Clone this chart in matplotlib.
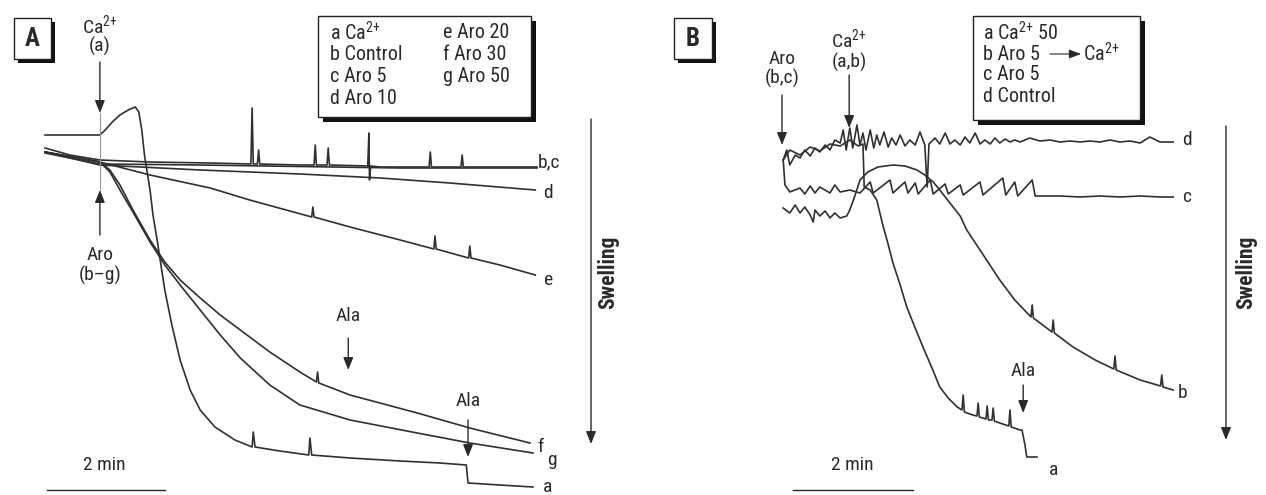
import matplotlib
matplotlib.use('Agg')
import matplotlib.pyplot as plt
from matplotlib import font_manager as fm
from matplotlib.patches import Rectangle

# ---------------- data: panel A (time in min, relative absorbance units) ----------------
A_a_t = [0.00, 0.93, 1.02, 1.14, 1.27, 1.41, 1.53, 1.59, 1.64, 1.69, 1.78, 1.83, 1.90, 2.03, 2.15, 2.29,
         2.46, 2.63, 2.88, 3.22, 3.51, 3.53, 3.56, 3.98, 4.47, 4.49, 4.52, 5.17, 6.02, 6.69, 7.14, 7.17,
         7.71, 8.27]
A_a_y = [15, 15, 20, 28, 35, 40, 43, 38, 20, -7, -40, -65, -90, -140, -175, -210,
         -240, -260, -277, -290, -297, -282, -297, -301, -305, -288, -305, -308, -311, -313, -315, -333,
         -335, -337]

A_b_t = [0.00, 0.42, 0.93, 1.78, 2.80, 3.49, 3.51, 3.53, 3.60, 3.62, 3.64, 4.32, 4.56, 4.58, 4.60, 4.78,
         4.80, 4.82, 5.47, 5.49, 5.50, 5.52, 5.68, 6.51, 6.53, 6.55, 7.05, 7.07, 7.09, 8.34]
A_b_y = [2, -5, -10, -12, -13, -14, 42, -14, -14, 0, -14, -15, -15, 5, -15, -15,
         2, -15, -16, 17, -30, -16, -17, -17, -2, -17, -17, -5, -17, -17]

A_c_t = [0.00, 0.93, 2.63, 6.02, 8.34]
A_c_y = [-3, -14, -15, -18, -18]

A_d_t = [0.00, 0.93, 2.63, 4.32, 5.68, 6.86, 8.31]
A_d_y = [-2, -15, -20, -24, -28, -33, -40]

A_e_t = [0.00, 0.93, 1.78, 2.80, 3.47, 4.52, 4.54, 4.56, 5.17, 6.02, 6.59, 6.61, 6.63, 7.18, 7.20, 7.22,
         7.71, 8.31]
A_e_y = [-2, -12, -25, -38, -50, -67, -57, -67, -77, -90, -99, -86, -99, -108, -96, -108,
         -115, -125]

A_f_t = [0.00, 0.93, 1.10, 1.27, 1.49, 1.78, 2.03, 2.29, 2.63, 2.97, 3.31, 3.81, 4.32, 4.60, 4.62,
         4.64, 5.17, 6.31, 7.20, 8.22]
A_f_y = [-2, -12, -20, -35, -60, -90, -112, -130, -148, -165, -180, -202, -222, -232, -222,
         -233, -245, -263, -278, -293]

A_g_t = [0.00, 0.93, 1.10, 1.27, 1.49, 1.78, 2.03, 2.29, 2.63, 2.97, 3.31, 3.81, 4.32, 5.17, 6.31,
         7.20, 8.27]
A_g_y = [-2, -12, -22, -40, -62, -92, -115, -135, -160, -185, -208, -235, -255, -270, -283,
         -293, -303]

A_trace_labels = ['b,c', 'd', 'e', 'f', 'g', 'a']
A_label_t = [8.55, 8.53, 8.53, 8.39, 8.59, 8.51]
A_label_y = [-12, -43, -130, -297, -310, -337]

A_ca_time = 0.93
A_aro_time = 0.93
A_ala_times = [5.14, 7.17]
A_legend_col1 = ['a Ca$^{2{+}}$', 'b Control', 'c Aro 5', 'd Aro 10']
A_legend_col2 = ['e Aro 20', 'f Aro 30', 'g Aro 50']

# ---------------- data: panel B ----------------
B_d_t = [0.02, 0.08, 0.13, 0.22, 0.30, 0.38, 0.47, 0.55, 0.63, 0.72, 0.80, 0.88, 0.97, 1.02, 1.07, 1.13,
         1.18, 1.25, 1.30, 1.35, 1.40, 1.47, 1.53, 1.58, 1.63, 1.70, 1.77, 1.83, 1.90, 1.97, 2.05, 2.13,
         2.22, 2.30, 2.38, 2.42, 2.45, 2.55, 2.63, 2.72, 2.80, 2.88, 2.97, 3.05, 3.13, 3.22, 3.30, 3.38,
         3.47, 3.55, 3.63, 3.72, 3.80, 3.88, 3.97, 4.13, 4.30, 4.47, 4.63, 4.80, 4.97, 5.13, 5.30, 5.47,
         5.63, 5.80, 5.97, 6.13, 6.30, 6.38, 6.52]
B_d_y = [-10, 0, -15, -5, -8, 0, -6, 2, -2, 5, 0, 10, 7, 20, 0, 22,
         2, 25, 5, 17, 0, 20, 2, 15, 5, 18, 3, 12, 5, 15, 4, 10,
         5, 18, 5, -37, 6, 12, 6, 17, 6, 10, 5, 13, 7, 17, 6, 10,
         6, 12, 7, 11, 8, 10, 8, 12, 9, 10, 8, 9, 8, 9, 8, 10,
         8, 9, 7, 13, 8, 8, 8]

B_c_t = [0.02, 0.05, 0.13, 0.30, 0.38, 0.47, 0.55, 0.63, 0.80, 0.88, 0.97, 1.13, 1.30, 1.47, 1.52, 1.80,
         1.85, 2.05, 2.10, 2.22, 2.27, 2.47, 2.52, 2.72, 2.77, 2.97, 3.02, 3.30, 3.35, 3.68, 3.73, 3.88,
         3.93, 4.17, 4.22, 4.63, 4.97, 5.30, 5.63, 5.97, 6.30, 6.52]
B_c_y = [-10, -35, -42, -38, -44, -36, -43, -37, -43, -35, -42, -40, -43, -32, -43, -30,
         -43, -32, -43, -33, -44, -30, -44, -34, -44, -35, -45, -32, -45, -28, -45, -32,
         -46, -30, -46, -46, -47, -46, -47, -46, -47, -47]

B_b_t = [0.02, 0.13, 0.22, 0.30, 0.38, 0.47, 0.52, 0.55, 0.63, 0.72, 0.80, 0.88, 0.97, 1.08, 1.13, 1.22,
         1.30, 1.43, 1.60, 1.85, 2.05, 2.25, 2.38, 2.52, 2.63, 2.80, 2.97, 3.08, 3.30, 3.63, 3.88, 4.15,
         4.17, 4.19, 4.50, 4.52, 4.54, 4.85, 5.22, 5.53, 5.55, 5.57, 5.97, 6.31, 6.33, 6.35, 6.52]
B_b_y = [-58, -63, -55, -63, -57, -65, -72, -60, -66, -61, -68, -63, -68, -66, -60, -45,
         -30, -22, -17, -15, -16, -20, -25, -32, -40, -53, -66, -80, -100, -130, -150, -167,
         -155, -168, -182, -170, -183, -197, -210, -219, -206, -220, -230, -236, -225, -237, -240]

B_a_t = [0.02, 0.13, 0.30, 0.47, 0.63, 0.80, 0.97, 1.13, 1.27, 1.35, 1.37, 1.47, 1.58, 1.68, 1.75, 1.85,
         1.97, 2.08, 2.22, 2.35, 2.50, 2.63, 2.77, 2.92, 3.00, 3.02, 3.04, 3.18, 3.25, 3.27, 3.29, 3.40,
         3.42, 3.44, 3.50, 3.52, 3.54, 3.63, 3.78, 3.80, 3.82, 3.97, 4.00, 4.05, 4.08, 4.25]
B_a_y = [-10, 0, -5, 3, -1, 6, 4, 10, 4, 6, -37, -40, -50, -75, -90, -113,
         -135, -157, -178, -197, -218, -237, -248, -257, -260, -245, -262, -265, -266, -253, -267, -269,
         -256, -270, -270, -258, -271, -273, -276, -260, -277, -280, -280, -295, -307, -307]

B_trace_labels = ['d', 'c', 'b', 'a']
B_label_t = [6.75, 6.75, 6.68, 4.52]
B_label_y = [10, -47, -243, -320]

B_aro_time = 0.0
B_ca_time = 1.12
B_ala_time = 4.02
B_legend = ['a Ca$^{2{+}}$ 50', 'b Aro 5', 'c Aro 5', 'd Control']

# ---------------- font choice: a narrow sans if one is installed ----------------
avail = {}
for f in fm.fontManager.ttflist:
    avail.setdefault(f.name, set()).add(f.stretch)
FAMILY, STRETCH = 'Liberation Sans', 'normal'
for cand in ['Liberation Sans Narrow', 'Roboto Condensed', 'Open Sans Condensed',
             'DejaVu Sans Condensed', 'Noto Sans Condensed', 'Arial Narrow']:
    if cand in avail:
        FAMILY = cand
        break
else:
    for nm, st in avail.items():
        if 'condensed' in st and nm in ('DejaVu Sans', 'Noto Sans', 'Open Sans', 'Roboto'):
            FAMILY, STRETCH = nm, 'condensed'
            break

plt.rcParams['font.family'] = [FAMILY, 'DejaVu Sans']
plt.rcParams['font.stretch'] = STRETCH
plt.rcParams['mathtext.fontset'] = 'custom'
plt.rcParams['mathtext.rm'] = FAMILY
plt.rcParams['mathtext.it'] = FAMILY
plt.rcParams['mathtext.bf'] = FAMILY

W, H = 1266, 495
fig = plt.figure(figsize=(W / 100, H / 100), dpi=100)
fig.patch.set_facecolor('white')

TXT = '#2a2a2a'
LINE = '#303030'
YL = (-345, 150)
FS = 14
LFS = 14.5

axA = fig.add_axes([0, 0, 633 / W, 1])
axA.set_xlim(-0.763, 9.966)
axA.set_ylim(*YL)
axB = fig.add_axes([633 / W, 0, 633 / W, 1])
axB.set_xlim(-2.483, 8.067)
axB.set_ylim(*YL)
axO = fig.add_axes([0, 0, 1, 1])
axO.set_xlim(0, W)
axO.set_ylim(H, 0)
for ax in (axA, axB, axO):
    ax.axis('off')
axO.patch.set_alpha(0)

arrow_kw = dict(arrowstyle='-|>,head_length=0.75,head_width=0.3', color=TXT, lw=1.0,
                mutation_scale=10, shrinkA=0, shrinkB=0)

# panel A traces
for tt, yy in [(A_c_t, A_c_y), (A_d_t, A_d_y), (A_e_t, A_e_y), (A_g_t, A_g_y),
               (A_f_t, A_f_y), (A_b_t, A_b_y), (A_a_t, A_a_y)]:
    axA.plot(tt, yy, color=LINE, lw=1.2, solid_joinstyle='round')
for lab, tx, ty in zip(A_trace_labels, A_label_t, A_label_y):
    axA.text(tx, ty, lab, ha='center', va='center', fontsize=FS, color=TXT)

# panel B traces
for tt, yy in [(B_d_t, B_d_y), (B_c_t, B_c_y), (B_b_t, B_b_y), (B_a_t, B_a_y)]:
    axB.plot(tt, yy, color=LINE, lw=1.2, solid_joinstyle='round')
for lab, tx, ty in zip(B_trace_labels, B_label_t, B_label_y):
    axB.text(tx, ty, lab, ha='center', va='center', fontsize=FS, color=TXT)

# ---- annotations panel A ----
axA.text(A_ca_time, 125, 'Ca$^{2{+}}$', ha='center', va='center', fontsize=FS, color=TXT)
axA.text(A_ca_time, 104, '(a)', ha='center', va='center', fontsize=FS, color=TXT)
axA.annotate('', xy=(A_ca_time, 37), xytext=(A_ca_time, 88), arrowprops=arrow_kw)
axA.plot([A_ca_time, A_ca_time], [37, -40], color='#999999', lw=0.8)
axA.annotate('', xy=(A_aro_time, -40), xytext=(A_aro_time, -85), arrowprops=arrow_kw)
axA.text(A_aro_time, -105, 'Aro', ha='center', va='center', fontsize=FS, color=TXT)
axA.text(A_aro_time, -125, '(b–g)', ha='center', va='center', fontsize=FS, color=TXT)
axA.text(A_ala_times[0], -166, 'Ala', ha='center', va='center', fontsize=FS, color=TXT)
axA.annotate('', xy=(A_ala_times[0], -220), xytext=(A_ala_times[0], -188), arrowprops=arrow_kw)
axA.text(A_ala_times[1], -251, 'Ala', ha='center', va='center', fontsize=FS, color=TXT)
axA.annotate('', xy=(A_ala_times[1], -307), xytext=(A_ala_times[1], -270), arrowprops=arrow_kw)
axA.annotate('', xy=(9.254, -294), xytext=(9.254, 31), arrowprops=arrow_kw)
axA.text(9.54, -122, 'Swelling', rotation=90, ha='center', va='center', fontsize=15.5,
         fontweight='bold', color=TXT)
axA.plot([0.03, 2.03], [-340, -340], color=TXT, lw=1.0)
axA.text(1.0, -315, '2 min', ha='center', va='center', fontsize=FS, color=TXT)

# ---- annotations panel B ----
axB.text(B_aro_time, 91, 'Aro', ha='center', va='center', fontsize=FS, color=TXT)
axB.text(B_aro_time, 72, '(b,c)', ha='center', va='center', fontsize=FS, color=TXT)
axB.annotate('', xy=(B_aro_time, 5), xytext=(B_aro_time, 55), arrowprops=arrow_kw)
axB.text(B_ca_time, 111, 'Ca$^{2{+}}$', ha='center', va='center', fontsize=FS, color=TXT)
axB.text(B_ca_time, 88, '(a,b)', ha='center', va='center', fontsize=FS, color=TXT)
axB.annotate('', xy=(B_ca_time, 22), xytext=(B_ca_time, 75), arrowprops=arrow_kw)
axB.text(B_ala_time, -221, 'Ala', ha='center', va='center', fontsize=FS, color=TXT)
axB.annotate('', xy=(B_ala_time, -263), xytext=(B_ala_time, -235), arrowprops=arrow_kw)
axB.annotate('', xy=(7.4, -290), xytext=(7.4, 24), arrowprops=arrow_kw)
axB.text(7.733, -122, 'Swelling', rotation=90, ha='center', va='center', fontsize=15.5,
         fontweight='bold', color=TXT)
axB.plot([0.183, 2.183], [-340, -340], color=TXT, lw=1.0)
axB.text(1.167, -315, '2 min', ha='center', va='center', fontsize=FS, color=TXT)


# ---- boxes (overlay, pixel coordinates) ----
def shadow_box(x0, y0, x1, y1, off):
    axO.add_patch(Rectangle((x0 + off, y0 + off), x1 - x0, y1 - y0, facecolor='#111111',
                            edgecolor='none', zorder=2))
    axO.add_patch(Rectangle((x0, y0), x1 - x0, y1 - y0, facecolor='white',
                            edgecolor='#222222', lw=1.0, zorder=3))


shadow_box(14, 18, 51, 59, 4)
axO.text(32.5, 38.5, 'A', ha='center', va='center', fontsize=18, fontweight='bold', color=TXT, zorder=4)
shadow_box(674, 18, 712, 59, 4)
axO.text(693, 38.5, 'B', ha='center', va='center', fontsize=18, fontweight='bold', color=TXT, zorder=4)

shadow_box(318, 16, 531, 117, 5)
for i, s in enumerate(A_legend_col1):
    axO.text(330, 33 + 21.7 * i, s, ha='left', va='center', fontsize=LFS, color=TXT, zorder=4)
for i, s in enumerate(A_legend_col2):
    axO.text(443, 33 + 21.7 * i, s, ha='left', va='center', fontsize=LFS, color=TXT, zorder=4)

shadow_box(973, 16, 1140, 120, 5)
for i, s in enumerate(B_legend):
    axO.text(983, 33 + 21 * i, s, ha='left', va='center', fontsize=LFS, color=TXT, zorder=4)
axO.annotate('', xy=(1081, 54), xytext=(1050, 54),
             arrowprops=dict(arrowstyle='-|>,head_length=0.8,head_width=0.3', color=TXT, lw=0.8,
                             mutation_scale=9, shrinkA=0, shrinkB=0), zorder=4)
axO.text(1083, 54, 'Ca$^{2{+}}$', ha='left', va='center', fontsize=LFS, color=TXT, zorder=4)

fig.savefig('out.png', dpi=100, facecolor='white')
